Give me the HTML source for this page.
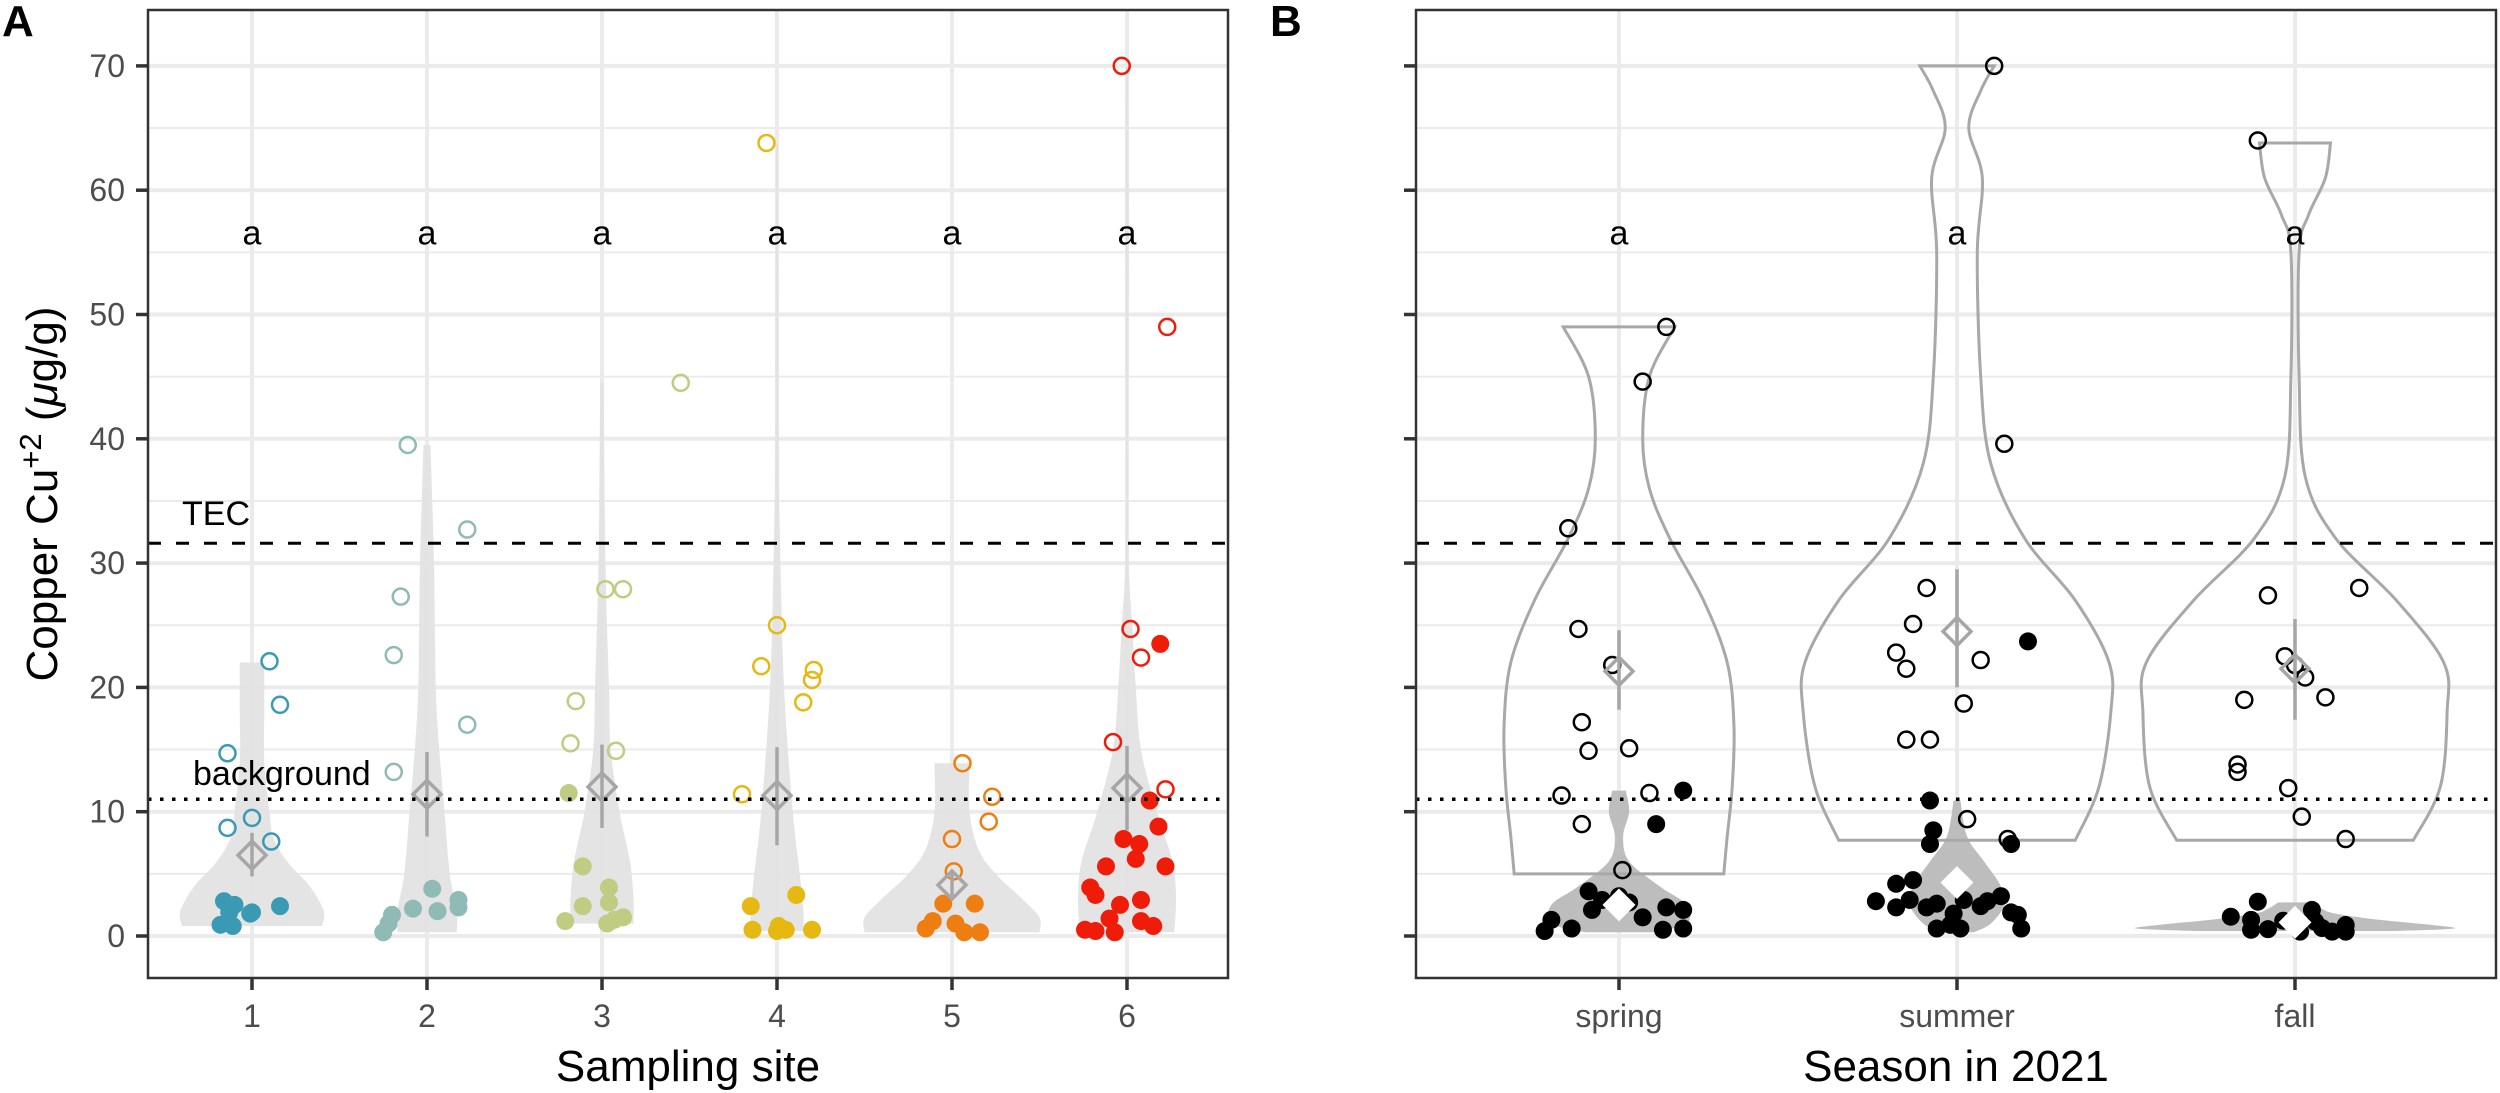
<!DOCTYPE html>
<html><head><meta charset="utf-8"><style>
html,body{margin:0;padding:0;background:#fff;width:2500px;height:1093px;overflow:hidden}
svg{display:block;font-family:"Liberation Sans",Arial,sans-serif}
</style></head><body>
<svg id="chart" width="2500" height="1093" viewBox="0 0 2500 1093" xmlns="http://www.w3.org/2000/svg"></svg>
<script>
// ---- data ----
const siteCategories = ["1","2","3","4","5","6"];
const siteColors = ["#3a9ab3","#8fbab5","#bfcc82","#e6b812","#ef7e12","#f01c0a"];
const yTicks = [0,10,20,30,40,50,60,70];
const tecValue = 31.6;
const backgroundValue = 11.0;
const letterValue = 56.5;
// open points per site: [offset, value]
const siteOpen = [
 [[0.10,22.1],[0.16,18.6],[-0.14,14.7],[-0.14,8.7],[0.0,9.5],[0.11,7.6]],
 [[-0.11,39.5],[0.23,32.7],[-0.15,27.3],[-0.19,22.6],[0.23,17.0],[-0.19,13.2]],
 [[0.45,44.5],[0.02,27.9],[0.12,27.9],[-0.15,18.9],[-0.18,15.5],[0.08,14.9]],
 [[-0.06,63.8],[0.0,25.0],[-0.09,21.7],[0.21,21.4],[0.20,20.6],[0.15,18.8],[-0.20,11.4]],
 [[0.06,13.9],[0.23,11.2],[0.21,9.2],[0.0,7.8],[0.01,5.2]],
 [[-0.03,70.0],[0.23,49.0],[0.02,24.7],[0.08,22.4],[-0.08,15.6],[0.22,11.8]]
];
const siteFilled = [
 [[-0.16,2.8],[-0.10,2.5],[0.0,1.9],[0.16,2.4],[-0.18,0.9],[-0.11,0.8],[-0.13,1.9],[-0.01,1.8]],
 [[-0.25,0.3],[-0.22,1.0],[-0.20,1.7],[-0.08,2.2],[0.03,3.8],[0.06,2.0],[0.18,2.9],[0.18,2.3]],
 [[-0.19,11.5],[-0.11,5.6],[0.04,3.9],[-0.11,2.4],[0.04,2.7],[-0.21,1.2],[0.03,1.0],[0.07,1.3],[0.12,1.5]],
 [[-0.15,2.4],[0.11,3.3],[-0.14,0.5],[0.01,0.8],[0.05,0.5],[0.20,0.5],[0.0,0.4]],
 [[-0.05,2.6],[0.13,2.6],[-0.11,1.2],[-0.15,0.6],[0.02,1.0],[0.07,0.3],[0.16,0.3]],
 [[0.19,23.5],[0.13,10.9],[0.18,8.8],[-0.02,7.8],[0.07,7.4],[0.05,6.2],[-0.12,5.6],[0.22,5.6],[-0.21,3.9],[-0.18,3.3],[-0.04,2.5],[0.08,2.9],[-0.10,1.4],[0.08,1.2],[0.15,0.8],[-0.24,0.5],[-0.18,0.4],[-0.07,0.3]]
];
// violin profiles: [value, half-width in category units]
const siteViolins = [
 [[0.8,0.40],[2,0.41],[4,0.33],[6,0.20],[8,0.12],[10,0.10],[14,0.07],[18,0.07],[22,0.07]],
 [[0.3,0.17],[2,0.17],[5,0.13],[10,0.10],[15,0.07],[20,0.05],[30,0.04],[39.5,0.02]],
 [[1.0,0.18],[3,0.18],[6,0.16],[10,0.10],[15,0.05],[20,0.04],[30,0.02],[44.5,0.01]],
 [[0.4,0.15],[2,0.15],[5,0.13],[10,0.09],[20,0.04],[30,0.02],[40,0.01],[63.8,0.006]],
 [[0.3,0.50],[1.5,0.50],[3,0.40],[5,0.25],[7,0.15],[10,0.10],[13.9,0.10]],
 [[0.3,0.27],[3,0.28],[6,0.26],[10,0.17],[15,0.08],[20,0.05],[25,0.03],[30,0.01],[40,0.006],[55,0.01],[70,0.006]]
];
const siteMeans = [6.5,11.4,12.0,11.3,4.1,11.9];
const siteErrLow = [4.8,8.0,8.7,7.3,3.0,8.5];
const siteErrHigh = [8.3,14.8,15.4,15.2,5.3,15.3];

const seasonCategories = ["spring","summer","fall"];
const seasonOpen = [
 [[0.14,49],[0.07,44.6],[-0.15,32.8],[-0.12,24.7],[-0.02,21.8],[-0.11,17.2],[-0.09,14.9],[0.03,15.1],[-0.17,11.3],[0.09,11.5],[-0.11,9.0],[0.01,5.3]],
 [[0.11,70],[0.14,39.6],[-0.09,28],[-0.13,25.1],[-0.18,22.8],[-0.15,21.5],[0.07,22.2],[0.02,18.7],[-0.08,15.8],[-0.15,15.8],[0.03,9.4],[0.15,7.8]],
 [[-0.11,64],[-0.08,27.4],[0.19,28],[-0.03,22.5],[0.0,21.8],[0.03,20.8],[0.09,19.2],[-0.15,19],[-0.17,13.8],[-0.17,13.2],[-0.02,11.9],[0.02,9.6],[0.15,7.8]]
];
const seasonFilled = [
 [[0.19,11.7],[0.11,9.0],[-0.09,3.6],[-0.05,2.9],[0.03,2.7],[0.14,2.3],[0.19,2.1],[-0.20,1.3],[-0.14,0.6],[0.13,0.5],[0.19,0.6],[0.0,3.2],[-0.08,2.1],[-0.22,0.4],[0.07,1.5]],
 [[0.21,23.7],[-0.08,10.9],[-0.07,8.5],[-0.08,7.4],[0.16,7.4],[-0.18,4.2],[-0.13,4.5],[-0.24,2.8],[-0.18,2.3],[-0.14,2.9],[-0.09,2.3],[-0.06,2.6],[-0.01,1.8],[0.02,2.9],[0.09,2.8],[0.13,3.2],[0.16,1.9],[0.18,1.7],[0.19,0.6],[-0.06,0.6],[-0.02,0.9],[0.01,0.6],[0.07,2.4]],
 [[-0.19,1.55],[-0.11,2.76],[-0.13,1.3],[-0.13,0.5],[-0.08,0.55],[-0.035,1.23],[0.05,2.1],[0.06,1.15],[0.08,0.64],[0.11,0.35],[0.15,0.88],[0.15,0.35],[0.015,0.35]]
];
const seasonOpenViolins = [
 [[5.0,0.31],[8,0.32],[12,0.335],[17,0.34],[22,0.32],[27,0.25],[32,0.15],[36,0.09],[40,0.07],[45,0.09],[49,0.165]],
 [[7.7,0.35],[12,0.42],[18,0.455],[22,0.45],[27,0.35],[32,0.20],[38,0.10],[45,0.07],[55,0.06],[61,0.075],[65,0.035],[68,0.07],[70,0.11]],
 [[7.7,0.35],[12,0.43],[18,0.45],[22,0.44],[27,0.30],[32,0.12],[37,0.03],[45,0.012],[55,0.012],[58,0.04],[61,0.09],[63.8,0.105]]
];
const seasonFilledViolins = [
 [[0.3,0.10],[1,0.20],[2.5,0.20],[4,0.12],[6,0.03],[8,0.012],[10,0.03],[11.7,0.02]],
 [[0.3,0.05],[1,0.10],[2.5,0.14],[4,0.13],[6,0.08],[8,0.03],[10.9,0.01]],
 [[0.4,0.30],[0.6,0.47],[0.9,0.40],[1.3,0.25],[1.8,0.12],[2.2,0.08],[2.7,0.05]]
];
const seasonOpenMeans = [21.3,24.5,21.5];
const seasonOpenErrLow = [18.2,20.0,17.4];
const seasonOpenErrHigh = [24.6,29.5,25.5];
const seasonFilledMeans = [2.5,4.3,1.1];

// ---- layout ----
const NS="http://www.w3.org/2000/svg";
const svg=document.getElementById('chart');
const Y0=936, YK=12.43;
function yS(v){return Y0-v*YK;}
const A={left:148,right:1228,top:10,bottom:978,x0:252,step:175};
const B={left:1416,right:2496,top:10,bottom:978,x0:1619,step:338};
function xA(i){return A.x0+i*A.step;}
function xB(i){return B.x0+i*B.step;}
function mk(tag,attrs,parent){const e=document.createElementNS(NS,tag);for(const k in attrs)e.setAttribute(k,attrs[k]);(parent||svg).appendChild(e);return e;}

function smoothSide(pts){
  // Catmull-Rom through pts -> cubic bezier segments (excluding initial M)
  let d='';
  for(let i=0;i<pts.length-1;i++){
    const p0=pts[Math.max(0,i-1)],p1=pts[i],p2=pts[i+1],p3=pts[Math.min(pts.length-1,i+2)];
    const c1=[p1[0]+(p2[0]-p0[0])/6,p1[1]+(p2[1]-p0[1])/6];
    const c2=[p2[0]-(p3[0]-p1[0])/6,p2[1]-(p3[1]-p1[1])/6];
    d+=`C${c1[0].toFixed(1)},${c1[1].toFixed(1)} ${c2[0].toFixed(1)},${c2[1].toFixed(1)} ${p2[0].toFixed(1)},${p2[1].toFixed(1)}`;
  }
  return d;
}
function violinPath(cx,step,prof){
  const r=prof.map(p=>[cx+p[1]*step,yS(p[0])]);
  const l=prof.map(p=>[cx-p[1]*step,yS(p[0])]).reverse();
  return `M${r[0][0]},${r[0][1]}`+smoothSide(r)+`L${l[0][0]},${l[0][1]}`+smoothSide(l)+'Z';
}

function drawPanel(P,cats,xf,name,showLabels){
  const g=mk('g',{});
  
  
  mk('rect',{x:P.left,y:P.top,width:P.right-P.left,height:P.bottom-P.top,fill:'#fff'},g);
  for(let v=5;v<=70;v+=10){const gl=mk('line',{x1:P.left,x2:P.right,y1:yS(v),y2:yS(v),stroke:'#ebebeb','stroke-width':2},g);
    }
  yTicks.forEach(v=>{const gl=mk('line',{x1:P.left,x2:P.right,y1:yS(v),y2:yS(v),stroke:'#ebebeb','stroke-width':4},g);
    });
  cats.forEach((c,i)=>{const gl=mk('line',{x1:xf(i),x2:xf(i),y1:P.top,y2:P.bottom,stroke:'#ebebeb','stroke-width':4},g);
    });
  yTicks.forEach(v=>{
    const t=mk('line',{x1:P.left-12,x2:P.left,y1:yS(v),y2:yS(v),stroke:'#333','stroke-width':3.5});
    
    if(showLabels){const tx=mk('text',{x:125,y:yS(v)+11,'text-anchor':'end','font-size':32,fill:'#4d4d4d'});tx.textContent=v;
      }
  });
  cats.forEach((c,i)=>{
    const t=mk('line',{x1:xf(i),x2:xf(i),y1:P.bottom,y2:P.bottom+12,stroke:'#333','stroke-width':3.5});
    
    const tx=mk('text',{x:xf(i),y:1027,'text-anchor':'middle','font-size':32,fill:'#4d4d4d'});tx.textContent=c;
    
  });
  return g;
}

function diamond(g,cx,cy,fill,stroke){
  const d=mk('path',{d:`M${cx},${cy-14}L${cx+14},${cy}L${cx},${cy+14}L${cx-14},${cy}Z`,fill:fill,stroke:stroke,'stroke-width':3.5},g);
  
}

// ---------- Panel A ----------
const gA=drawPanel(A,siteCategories,xA,'panel-a',true);
siteViolins.forEach((prof,i)=>{
  const v=mk('path',{d:violinPath(xA(i),A.step,prof),fill:'#e3e3e3',opacity:0.95},gA);
  
});
siteOpen.forEach((pts,i)=>pts.forEach(p=>{
  const c=mk('circle',{cx:xA(i)+p[0]*A.step,cy:yS(p[1]),r:8,fill:'none',stroke:siteColors[i],'stroke-width':2.5},gA);
  
}));
siteFilled.forEach((pts,i)=>pts.forEach(p=>{
  const c=mk('circle',{cx:xA(i)+p[0]*A.step,cy:yS(p[1]),r:9,fill:siteColors[i]},gA);
  
}));
siteMeans.forEach((m,i)=>{
  const e=mk('line',{x1:xA(i),x2:xA(i),y1:yS(siteErrLow[i]),y2:yS(siteErrHigh[i]),stroke:'#a6a6a6','stroke-width':3.5},gA);
  
  diamond(gA,xA(i),yS(m),'none','#a6a6a6');
});
function refLines(g,P){
  const t=mk('line',{x1:P.left,x2:P.right,y1:yS(tecValue),y2:yS(tecValue),stroke:'#000','stroke-width':3,'stroke-dasharray':'13 15'},g);
  
  const b=mk('line',{x1:P.left,x2:P.right,y1:yS(backgroundValue),y2:yS(backgroundValue),stroke:'#000','stroke-width':3.5,'stroke-dasharray':'3.5 8.5'},g);
  
}
refLines(gA,A);
siteCategories.forEach((c,i)=>{
  const t=mk('text',{x:xA(i),y:yS(letterValue)+11,'text-anchor':'middle','font-size':34,fill:'#000'},gA);t.textContent='a';
  
});
let tt=mk('text',{x:182,y:525,'font-size':34,fill:'#000'},gA);tt.textContent='TEC';

tt=mk('text',{x:193,y:785,'font-size':34,fill:'#000'},gA);tt.textContent='background';

let bA=mk('rect',{x:A.left,y:A.top,width:A.right-A.left,height:A.bottom-A.top,fill:'none',stroke:'#333','stroke-width':2.5},gA);


// ---------- Panel B ----------
const gB=drawPanel(B,seasonCategories,xB,'panel-b',false);
seasonFilledViolins.forEach((prof,i)=>{
  const v=mk('path',{d:violinPath(xB(i),B.step,prof),fill:'#bdbdbd'},gB);
  
});
seasonOpenViolins.forEach((prof,i)=>{
  const v=mk('path',{d:violinPath(xB(i),B.step,prof),fill:'none',stroke:'#a8a8a8','stroke-width':3},gB);
  
});
seasonOpen.forEach((pts,i)=>pts.forEach(p=>{
  const c=mk('circle',{cx:xB(i)+p[0]*B.step,cy:yS(p[1]),r:8,fill:'none',stroke:'#000','stroke-width':2.5},gB);
  
}));
seasonFilled.forEach((pts,i)=>pts.forEach(p=>{
  const c=mk('circle',{cx:xB(i)+p[0]*B.step,cy:yS(p[1]),r:9,fill:'#000'},gB);
  
}));
seasonOpenMeans.forEach((m,i)=>{
  const e=mk('line',{x1:xB(i),x2:xB(i),y1:yS(seasonOpenErrLow[i]),y2:yS(seasonOpenErrHigh[i]),stroke:'#a6a6a6','stroke-width':3.5},gB);
  
  diamond(gB,xB(i),yS(m),'none','#a6a6a6');
});
seasonFilledMeans.forEach((m,i)=>{diamond(gB,xB(i),yS(m),'#fff','#fff');});
refLines(gB,B);
seasonCategories.forEach((c,i)=>{
  const t=mk('text',{x:xB(i),y:yS(letterValue)+11,'text-anchor':'middle','font-size':34,fill:'#000'},gB);t.textContent='a';
  
});
let bB=mk('rect',{x:B.left,y:B.top,width:B.right-B.left,height:B.bottom-B.top,fill:'none',stroke:'#333','stroke-width':2.5},gB);


// ---------- titles ----------
let t1=mk('text',{x:2,y:36,'font-size':44,'font-weight':'bold',fill:'#000'});t1.textContent='A';

let t2=mk('text',{x:1270,y:36,'font-size':44,'font-weight':'bold',fill:'#000'});t2.textContent='B';

let xt=mk('text',{x:(A.left+A.right)/2,y:1081,'text-anchor':'middle','font-size':44,fill:'#000'});xt.textContent='Sampling site';

let xt2=mk('text',{x:(B.left+B.right)/2,y:1081,'text-anchor':'middle','font-size':44,fill:'#000'});xt2.textContent='Season in 2021';

let yt=mk('text',{x:0,y:0,'text-anchor':'middle','font-size':44,fill:'#000',transform:'translate(57,494) rotate(-90)'});
yt.innerHTML='Copper Cu<tspan dy="-16" font-size="31">+2</tspan><tspan dy="16"> (</tspan><tspan font-style="italic">μ</tspan>g/g)';

</script>
</body></html>
